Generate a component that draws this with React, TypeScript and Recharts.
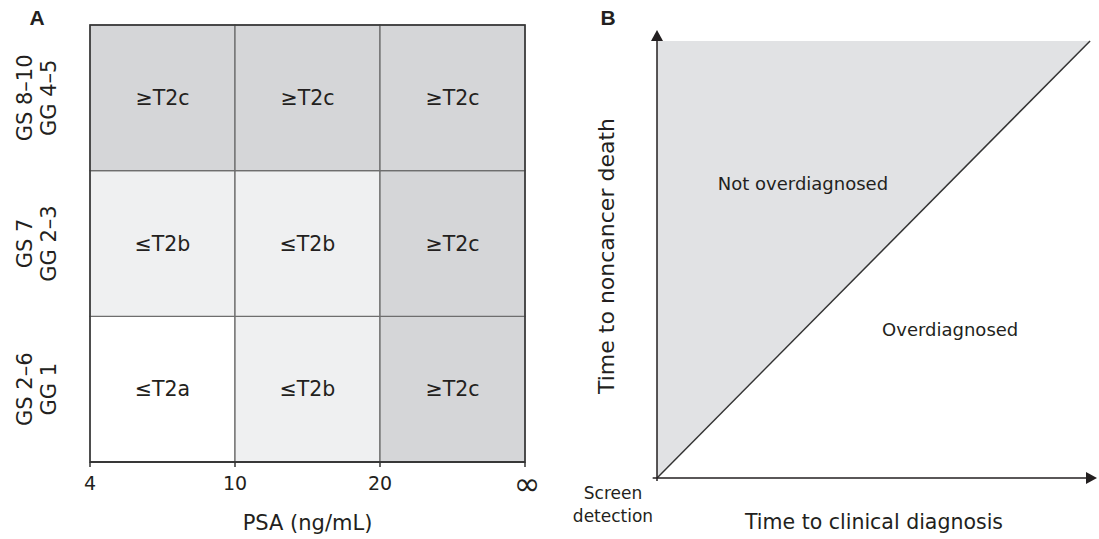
import React from 'react';
import {
  ComposedChart,
  XAxis,
  YAxis,
  ReferenceArea,
  ReferenceLine,
  ReferenceDot,
  Area,
  Line,
} from 'recharts';

// ---------- Panel A data ----------
const psaTickValues = [0, 1, 2, 3];
const psaTickLabels = ['4', '10', '20', '∞'];
const gradeTickValues = [0.5, 1.5, 2.5];
// bottom -> top
const gradeLabels = [
  ['GS 2–6', 'GG 1'],
  ['GS 7', 'GG 2–3'],
  ['GS 8–10', 'GG 4–5'],
];
const stageLabels = [
  ['≤T2a', '≤T2b', '≥T2c'],
  ['≤T2b', '≤T2b', '≥T2c'],
  ['≥T2c', '≥T2c', '≥T2c'],
];
const riskLevels = [
  [0, 1, 2],
  [1, 1, 2],
  [2, 2, 2],
];
const riskColors = ['#ffffff', '#eff0f1', '#d5d6d8'];

// ---------- Panel B data ----------
const timeToDiagnosis = [0, 1];
const timeToDeathTop = [1, 1];
const diagonal = [0, 1];
const regionNames = ['Not overdiagnosed', 'Overdiagnosed'];
const regionX = [0.337, 0.677];
const regionY = [0.673, 0.339];

const FONT = '"DejaVu Sans", Verdana, sans-serif';
const INK = '#231f20';

const cells = riskLevels.flatMap((row, r) =>
  row.map((lvl, c) => ({ r, c, fill: riskColors[lvl], label: stageLabels[r][c] }))
);

const bData = timeToDiagnosis.map((x, i) => ({
  x,
  range: [diagonal[i], timeToDeathTop[i]],
  diag: diagonal[i],
}));

const PsaTick = (props: any) => {
  const { x, y, payload } = props;
  const idx = psaTickValues.indexOf(payload.value);
  const label = psaTickLabels[idx];
  const isInf = label === '∞';
  return (
    <text
      x={isInf ? x + 2 : x}
      y={isInf ? y + 7 : y + 6}
      textAnchor="middle"
      dominantBaseline="central"
      fontFamily={FONT}
      fontSize={isInf ? 32 : 19}
      fill={INK}
    >
      {label}
    </text>
  );
};

const GradeTick = (props: any) => {
  const { x, y, payload } = props;
  const idx = Math.floor(payload.value);
  const lines = gradeLabels[idx];
  return (
    <g>
      {lines.map((t, i) => {
        const cx = x - 65 + i * 24;
        return (
          <text
            key={i}
            x={cx}
            y={y}
            transform={`rotate(-90, ${cx}, ${y})`}
            textAnchor="middle"
            dominantBaseline="central"
            fontFamily={FONT}
            fontSize={21}
            fill={INK}
          >
            {t}
          </text>
        );
      })}
    </g>
  );
};

const PsaLabel = (props: any) => {
  const { viewBox } = props;
  const cx = viewBox.x + viewBox.width / 2;
  const cy = viewBox.y + viewBox.height - 16;
  return (
    <text x={cx} y={cy} textAnchor="middle" dominantBaseline="central" fontFamily={FONT} fontSize={21} fill={INK}>
      PSA (ng/mL)
    </text>
  );
};

const DeathLabel = (props: any) => {
  const { viewBox } = props;
  const cx = viewBox.x + 46;
  const cy = viewBox.y + viewBox.height / 2 + 2;
  return (
    <text
      x={cx}
      y={cy}
      transform={`rotate(-90, ${cx}, ${cy})`}
      textAnchor="middle"
      dominantBaseline="central"
      fontFamily={FONT}
      fontSize={22}
      fill={INK}
    >
      Time to noncancer death
    </text>
  );
};

const DiagnosisLabel = (props: any) => {
  const { viewBox } = props;
  const cx = viewBox.x + viewBox.width / 2 - 3;
  const cy = viewBox.y + 44;
  return (
    <text x={cx} y={cy} textAnchor="middle" dominantBaseline="central" fontFamily={FONT} fontSize={20.5} fill={INK}>
      Time to clinical diagnosis
    </text>
  );
};

const OriginTick = (props: any) => {
  const { x, y } = props;
  return (
    <g>
      <text x={x - 44} y={y + 15} textAnchor="middle" dominantBaseline="central" fontFamily={FONT} fontSize={17} fill={INK}>
        Screen
      </text>
      <text x={x - 44} y={y + 38} textAnchor="middle" dominantBaseline="central" fontFamily={FONT} fontSize={17} fill={INK}>
        detection
      </text>
    </g>
  );
};

const ArrowUp = (props: any) => {
  const { x1, y1, x2, y2 } = props;
  const head = 11;
  return (
    <g>
      <line x1={x1} y1={y1 + 3} x2={x2} y2={y2 + head} stroke={INK} strokeWidth={1.5} />
      <polygon points={`${x2},${y2} ${x2 - 6},${y2 + head} ${x2 + 6},${y2 + head}`} fill={INK} />
    </g>
  );
};

const ArrowRight = (props: any) => {
  const { x1, y1, x2, y2 } = props;
  const head = 11;
  return (
    <g>
      <line x1={x1} y1={y1} x2={x2 - head} y2={y2} stroke={INK} strokeWidth={1.5} />
      <polygon points={`${x2},${y2} ${x2 - head},${y2 - 6} ${x2 - head},${y2 + 6}`} fill={INK} />
    </g>
  );
};

const titleStyle: React.CSSProperties = {
  position: 'absolute',
  width: 24,
  textAlign: 'center',
  fontFamily: '"Liberation Sans", Arial, sans-serif',
  fontWeight: 'bold',
  fontSize: 21,
  lineHeight: '22px',
  color: INK,
};

export default function App() {
  return (
    <div style={{ position: 'absolute', left: 0, top: 0, width: 1099, height: 539, background: '#fff' }}>
      <div style={{ ...titleStyle, left: 25, top: 7 }}>A</div>
      <div style={{ ...titleStyle, left: 596, top: 7 }}>B</div>

      <div style={{ position: 'absolute', left: 0, top: 0 }}>
        <ComposedChart width={560} height={539} data={cells} margin={{ top: 25, right: 35, left: 0, bottom: 0 }}>
          <XAxis
            type="number"
            dataKey="c"
            domain={[0, 3]}
            ticks={psaTickValues}
            allowDataOverflow
            height={77}
            tick={<PsaTick />}
            tickSize={5}
            tickMargin={10}
            axisLine={{ stroke: '#333', strokeWidth: 1.5 }}
            tickLine={{ stroke: '#333', strokeWidth: 1.5 }}
            label={<PsaLabel />}
          />
          <YAxis
            type="number"
            dataKey="r"
            domain={[0, 3]}
            ticks={gradeTickValues}
            allowDataOverflow
            width={90}
            tick={<GradeTick />}
            tickSize={0}
            tickMargin={0}
            axisLine={false}
            tickLine={false}
          />
          {cells.map((cell) => (
            <ReferenceArea
              key={`${cell.r}-${cell.c}`}
              x1={cell.c}
              x2={cell.c + 1}
              y1={cell.r}
              y2={cell.r + 1}
              fill={cell.fill}
              fillOpacity={1}
              stroke="#6e6e6e"
              strokeWidth={1.3}
              label={{ value: cell.label, position: 'center', fontFamily: FONT, fontSize: 20.5, fill: INK }}
            />
          ))}
          <ReferenceArea x1={0} x2={3} y1={0} y2={3} fill="none" fillOpacity={0} stroke="#333" strokeWidth={1.5} />
        </ComposedChart>
      </div>

      <div style={{ position: 'absolute', left: 560, top: 0 }}>
        <ComposedChart width={539} height={539} data={bData} margin={{ top: 30, right: 2, left: 0, bottom: 0 }}>
          <XAxis
            type="number"
            dataKey="x"
            domain={[0, 1.016]}
            allowDataOverflow
            ticks={[0]}
            height={61}
            tick={<OriginTick />}
            tickSize={0}
            tickMargin={0}
            axisLine={false}
            tickLine={false}
            label={<DiagnosisLabel />}
          />
          <YAxis
            type="number"
            domain={[0, 1.025]}
            allowDataOverflow
            width={97}
            tick={false}
            axisLine={false}
            tickLine={false}
            label={<DeathLabel />}
          />
          <Area
            type="linear"
            dataKey="range"
            fill="#e1e2e4"
            fillOpacity={1}
            stroke="none"
            isAnimationActive={false}
          />
          <Line
            type="linear"
            dataKey="diag"
            stroke="#333"
            strokeWidth={1.5}
            dot={false}
            isAnimationActive={false}
          />
          <ReferenceLine
            segment={[{ x: 0, y: 0 }, { x: 0, y: 1.025 }]}
            ifOverflow="visible"
            shape={<ArrowUp />}
          />
          <ReferenceLine
            segment={[{ x: -0.01, y: 0 }, { x: 1.016, y: 0 }]}
            ifOverflow="visible"
            shape={<ArrowRight />}
          />
          {regionNames.map((name, i) => (
            <ReferenceDot
              key={name}
              x={regionX[i]}
              y={regionY[i]}
              r={0}
              fill="none"
              stroke="none"
              label={{ value: name, position: 'center', fontFamily: FONT, fontSize: 18, fill: INK }}
            />
          ))}
        </ComposedChart>
      </div>
    </div>
  );
}
